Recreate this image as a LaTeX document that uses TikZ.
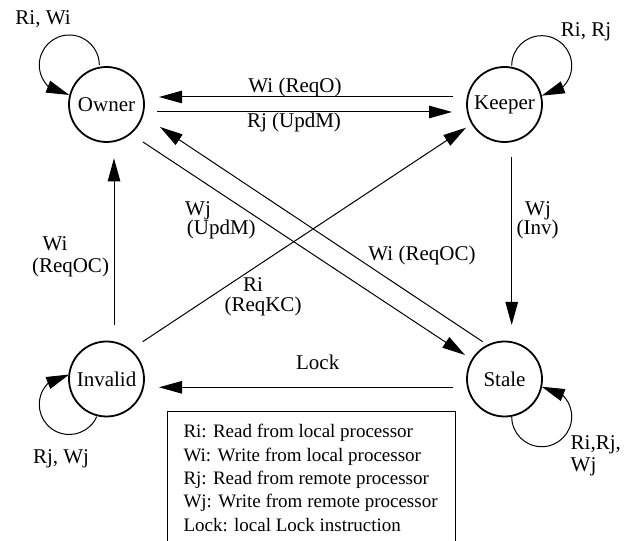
\documentclass[tikz,border=0pt]{standalone}
\usepackage{fontspec}
\setmainfont{Liberation Serif}
\usetikzlibrary{arrows.meta,bending,calc}
\newcommand\lblfont{\fontsize{21}{25}\selectfont}
\newcommand\legfont{\fontsize{19}{23.3}\selectfont}
\begin{document}
\begin{tikzpicture}[x=1pt,y=1pt,
  state/.style={circle, draw, line width=1.8pt, minimum size=75pt, inner sep=0pt, font=\lblfont},
  arr/.style={line width=1pt, -{Triangle[length=23pt,width=12.5pt,flex]}},
  lab/.style={font=\lblfont, inner sep=0pt, anchor=base},
  labw/.style={font=\lblfont, inner sep=0pt, anchor=base west},
]
\clip (0,0) rectangle (628,540);
% states
\node[state] (Owner)   at (106.5,435.5) {Owner};
\node[state] (Keeper)  at (504.5,435.5) {Keeper};
\node[state] (Invalid) at (106.5,161)   {Invalid};
\node[state] (Stale)   at (504.5,161)   {Stale};
% straight transitions
\draw[arr] ($(Keeper)+(-51.8,7.5)$) -- ($(Owner)+(52.5,7.5)$);
\draw[arr] ($(Owner)+(50.5,-7.5)$) -- ($(Keeper)+(-52.5,-7.5)$);
\draw[arr] ($(Keeper)+(7.2,-52.8)$) -- ($(Stale)+(7.2,54)$);
\draw[arr] ($(Invalid)+(7.5,54)$) -- ($(Owner)+(7.5,-53.8)$);
\draw[arr] ($(Stale)+(-51.8,-8.3)$) -- ($(Invalid)+(52.5,-8.3)$);
\draw[arr] ($(Owner)+(36.5,-37.5)$) -- ($(Stale)+(-39.5,24)$);
\draw[arr] ($(Stale)+(-21.8,37.3)$) -- ($(Owner)+(53.5,-22.5)$);
\draw[arr] ($(Invalid)+(36.2,37.3)$) -- ($(Keeper)+(-38.5,-23.2)$);
% self loops
\draw[arr] ($(Owner)+(-7.2,39.5)$) arc[start angle=0,end angle=270,radius=30];
\draw[arr] ($(Keeper)+(7.2,38.8)$) arc[start angle=180,end angle=-90,radius=30];
\draw[arr] ($(Invalid)+(-9.8,-37.7)$) arc[start angle=-24,end angle=-270,radius=30];
\draw[arr] ($(Stale)+(7.2,-37.7)$) arc[start angle=180,end angle=450,radius=30];
% labels
\node[lab] (lWiReqO) at (295,447) {Wi (ReqO)};
\node[lab] (lRjUpdM) at (294,412) {Rj (UpdM)};
\node[lab] (lWiA) at (55,289) {Wi};
\node[lab] (lWiB) at (70.5,267.3) {(ReqOC)};
\node[labw] (lWjA) at (185,324) {Wj};
\node[labw] (lWjB) at (186.7,305) {(UpdM)};
\node[lab] (lRiA) at (253,248.3) {Ri};
\node[lab] (lRiB) at (263,228.3) {(ReqKC)};
\node[lab] (lWiReqOC) at (422,279) {Wi (ReqOC)};
\node[lab] (lInvA) at (538,324) {Wj};
\node[lab] (lInvB) at (537.5,305) {(Inv)};
\node[lab] (lLock) at (317.7,170.7) {Lock};
\node[lab] (lOwnLoop) at (43,515.7) {Ri, Wi};
\node[lab] (lKeepLoop) at (586,503.3) {Ri, Rj};
\node[lab] (lInvLoop) at (61,76) {Rj, Wj};
\node[labw] (lStaleA) at (570.5,90) {Ri,Rj,};
\node[labw] (lStaleB) at (570.5,68) {Wj};
% legend
\coordinate (lgBL) at (167.3,-10);
\coordinate (lgTL) at (167.3,128);
\coordinate (lgTR) at (455,128);
\coordinate (lgBR) at (455,-10);
\draw[line width=1pt] (lgBL) -- (lgTL) -- (lgTR) -- (lgBR);
\node[font=\legfont, inner sep=0pt, anchor=base west, align=left] (legend) at (183.3,9)
  {Ri: Read from local processor\\
   Wi: Write from local processor\\
   Rj: Read from remote processor\\
   Wj: Write from remote processor\\
   Lock: local Lock instruction};
\end{tikzpicture}
\end{document}
